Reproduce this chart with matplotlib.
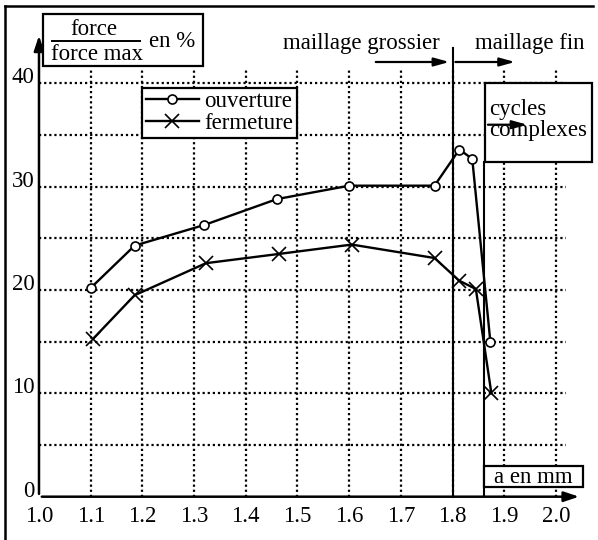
import matplotlib
matplotlib.use('Agg')
import matplotlib.pyplot as plt
from matplotlib.patches import Rectangle
from matplotlib.lines import Line2D

plt.rcParams['font.family'] = ['Liberation Serif', 'DejaVu Serif']

# donnees
a_ouv = [1.10, 1.185, 1.32, 1.46, 1.60, 1.765, 1.813, 1.838, 1.873]
f_ouv = [20.2, 24.3, 26.3, 28.8, 30.1, 30.1, 33.6, 32.7, 15.0]
a_ferm = [1.105, 1.185, 1.323, 1.465, 1.605, 1.765, 1.813, 1.845, 1.875]
f_ferm = [15.3, 19.5, 22.6, 23.5, 24.4, 23.1, 20.9, 20.1, 10.0]

x_ticks = [1.0, 1.1, 1.2, 1.3, 1.4, 1.5, 1.6, 1.7, 1.8, 1.9, 2.0]
x_labels = ['1.0', '1.1', '1.2', '1.3', '1.4', '1.5', '1.6', '1.7', '1.8', '1.9', '2.0']
y_ticks = [0, 10, 20, 30, 40]
y_grid = [5, 10, 15, 20, 25, 30, 35, 40]
a_grossier_fin = 1.80
a_cycles = 1.861

fig = plt.figure(figsize=(5.98, 5.40), dpi=100)
ax = fig.add_axes([0.0652, 0.0802, 0.9078, 0.8534])
ax.set_xlim(1.0, 2.05)
ax.set_ylim(0, 44.6)
for s in ax.spines.values():
    s.set_visible(False)

fs = 16.5
ax.set_xticks(x_ticks)
ax.set_xticklabels(x_labels, fontsize=fs)
ax.set_yticks(y_ticks)
ax.set_yticklabels([str(v) for v in y_ticks], fontsize=fs, va='baseline')
ax.tick_params(axis='x', length=0, pad=7)
ax.tick_params(axis='y', length=0, pad=3)

# grille pointillee
dots = (0, (1, 1.3))
ax.vlines(x_ticks[1:], 0, 41.4, colors='k', linestyles=dots, lw=1.6)
ax.hlines(y_grid, 1.0, 2.02, colors='k', linestyles=dots, lw=1.6)

# axes avec fleches
ax.annotate('', xy=(2.05, 0), xytext=(1.0, 0), annotation_clip=False,
            arrowprops=dict(arrowstyle='-|>,head_length=0.9,head_width=0.3', color='k', lw=1.8))
ax.annotate('', xy=(1.0, 44.9), xytext=(1.0, 0), annotation_clip=False,
            arrowprops=dict(arrowstyle='-|>,head_length=0.9,head_width=0.3', color='k', lw=1.8))

# courbes
ax.plot(a_ouv, f_ouv, '-k', lw=1.7, marker='o', mfc='white', mec='k', ms=6.5, mew=1.2,
        label='ouverture')
ax.plot(a_ferm, f_ferm, '-k', lw=1.7, marker='x', ms=10, mew=1.2, label='fermeture')

# separation maillage
ax.plot([a_grossier_fin, a_grossier_fin], [0, 43.4], '-k', lw=1.5, clip_on=False)
ax.plot([a_cycles, a_cycles], [0, 32.4], '-k', lw=1.5)
ax.text(1.776, 43.3, 'maillage grossier', fontsize=fs, ha='right', va='baseline')
ax.text(1.844, 43.3, 'maillage fin', fontsize=fs, ha='left', va='baseline')
ax.annotate('', xy=(1.799, 42.07), xytext=(1.646, 42.07), annotation_clip=False,
            arrowprops=dict(arrowstyle='-|>,head_length=0.9,head_width=0.25', color='k', lw=1.6))
ax.annotate('', xy=(1.926, 42.07), xytext=(1.80, 42.07), annotation_clip=False,
            arrowprops=dict(arrowstyle='-|>,head_length=0.9,head_width=0.25', color='k', lw=1.6))

# boite cycles complexes
ax.add_patch(Rectangle((1.863, 32.4), 0.207, 7.6, fc='white', ec='k', lw=1.6,
                       clip_on=False, zorder=3))
ax.text(1.870, 36.9, 'cycles', fontsize=fs, va='baseline', zorder=4)
ax.text(1.870, 34.9, 'complexes', fontsize=fs, va='baseline', zorder=4)
ax.annotate('', xy=(1.95, 36.0), xytext=(1.863, 36.0), zorder=5,
            arrowprops=dict(arrowstyle='-|>,head_length=0.9,head_width=0.25', color='k', lw=1.6))

# boite a en mm
ax.add_patch(Rectangle((1.861, 0.9), 0.191, 2.1, fc='white', ec='k', lw=1.6,
                       clip_on=False, zorder=3))
ax.text(1.956, 1.9, 'a en mm', fontsize=fs, ha='center', va='center', zorder=4)

# titre de l'axe y
ax.add_patch(Rectangle((1.0077, 41.7), 0.309, 5.0, fc='white', ec='k', lw=1.6,
                       clip_on=False, zorder=3))
ax.text(1.106, 44.7, 'force', fontsize=fs, ha='center', va='baseline', zorder=4)
ax.plot([1.025, 1.195], [44.13, 44.13], '-k', lw=1.4, clip_on=False, zorder=4)
ax.text(1.113, 42.25, 'force max', fontsize=fs, ha='center', va='baseline', zorder=4)
ax.text(1.213, 43.5, 'en %', fontsize=fs, ha='left', va='baseline', zorder=4)

# legende
leg = ax.legend(loc='upper left', bbox_to_anchor=(1.2, 39.6), bbox_transform=ax.transData,
                fontsize=fs, frameon=True, fancybox=False, edgecolor='k', framealpha=1,
                borderaxespad=0, borderpad=0.15, labelspacing=0.05, handlelength=2.3,
                handletextpad=0.25)
leg.get_frame().set_linewidth(1.6)
leg.set_zorder(5)

# cadre exterieur
fig.add_artist(Line2D([5 / 598, 5 / 598], [0, 1 - 6 / 540], color='k', lw=1.8))
fig.add_artist(Line2D([5 / 598, 593 / 598], [1 - 6 / 540, 1 - 6 / 540], color='k', lw=1.8))

fig.savefig('out.png', dpi=100)
